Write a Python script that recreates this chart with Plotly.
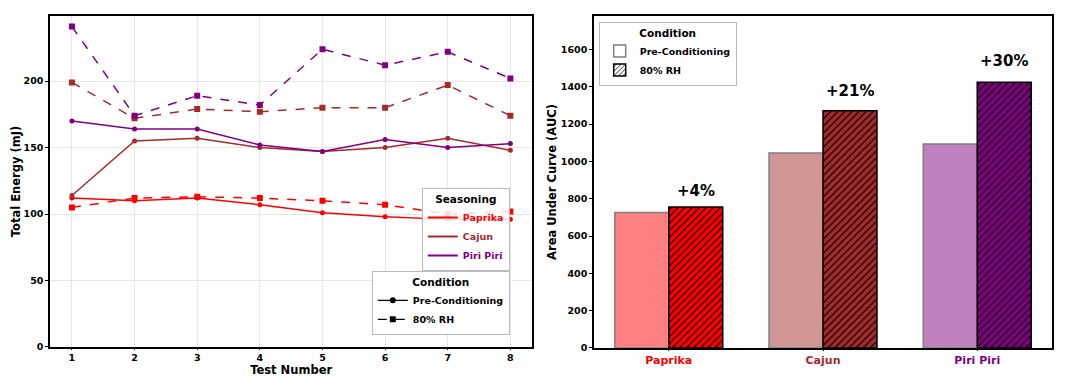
import plotly.graph_objects as go

tests = [1, 2, 3, 4, 5, 6, 7, 8]
seasonings = ["Paprika", "Cajun", "Piri Piri"]
colors = {"Paprika": "#FF0000", "Cajun": "#A52A2A", "Piri Piri": "#800080"}
light = {"Paprika": "#FF8080", "Cajun": "#D29595", "Piri Piri": "#BF80BF"}

pre = {
    "Paprika": [112, 110, 112, 107, 101, 98, 96, 96],
    "Cajun": [114, 155, 157, 150, 147, 150, 157, 148],
    "Piri Piri": [170, 164, 164, 152, 147, 156, 150, 153],
}
rh = {
    "Paprika": [105, 112, 113, 112, 110, 107, 100, 102],
    "Cajun": [199, 172, 179, 177, 180, 180, 197, 174],
    "Piri Piri": [241, 174, 189, 182, 224, 212, 222, 202],
}
auc_pre = [726, 1045, 1093]
auc_rh = [756, 1272, 1425]
pct_labels = ["+4%", "+21%", "+30%"]

FONT = "DejaVu Sans"
fig = go.Figure()

# left line chart
for s in seasonings:
    fig.add_trace(go.Scatter(x=tests, y=pre[s], mode="lines+markers",
                             line=dict(color=colors[s], width=1.5),
                             marker=dict(symbol="circle", size=5, color=colors[s]),
                             showlegend=False, xaxis="x", yaxis="y"))
    fig.add_trace(go.Scatter(x=tests, y=rh[s], mode="lines+markers",
                             line=dict(color=colors[s], width=1.5, dash="dash"),
                             marker=dict(symbol="square", size=6, color=colors[s]),
                             showlegend=False, xaxis="x", yaxis="y"))

# seasoning legend
for s in seasonings:
    fig.add_trace(go.Scatter(x=[None], y=[None], mode="lines",
                             line=dict(color=colors[s], width=2),
                             name=f"<span style='color:{colors[s]}'>{s}</span>",
                             legend="legend", xaxis="x", yaxis="y"))
# condition legend (left)
fig.add_trace(go.Scatter(x=[None], y=[None], mode="lines+markers",
                         line=dict(color="black", width=1.2),
                         marker=dict(symbol="circle", size=6, color="black"),
                         name="Pre-Conditioning", legend="legend2", xaxis="x", yaxis="y"))
fig.add_trace(go.Scatter(x=[None], y=[None], mode="lines+markers",
                         line=dict(color="black", width=1.2, dash="dash"),
                         marker=dict(symbol="square", size=6, color="black"),
                         name="80% RH", legend="legend2", xaxis="x", yaxis="y"))

# right bar chart (one trace per seasoning so that hatch colour stays black)
for s, vp, vr in zip(seasonings, auc_pre, auc_rh):
    fig.add_trace(go.Bar(x=[s], y=[vp], offsetgroup="pre",
                         marker=dict(color=light[s], line=dict(color="#7F7F7F", width=1.5)),
                         showlegend=False, xaxis="x2", yaxis="y2"))
    fig.add_trace(go.Bar(x=[s], y=[vr], offsetgroup="rh",
                         marker=dict(color=colors[s], line=dict(color="black", width=1.5),
                                     pattern=dict(shape="/", fillmode="replace",
                                                  bgcolor=colors[s], fgcolor="black",
                                                  fgopacity=1, size=5, solidity=0.22)),
                         showlegend=False, xaxis="x2", yaxis="y2"))
fig.add_trace(go.Bar(x=[None], y=[None], name="Pre-Conditioning", legend="legend3",
                     marker=dict(color="white", line=dict(color="#7F7F7F", width=1.5)),
                     xaxis="x2", yaxis="y2"))
fig.add_trace(go.Bar(x=[None], y=[None], name="80% RH", legend="legend3",
                     marker=dict(color="white", line=dict(color="black", width=1.5),
                                 pattern=dict(shape="/", fillmode="replace", bgcolor="white",
                                              fgcolor="black", fgopacity=1,
                                              size=4, solidity=0.25)),
                     xaxis="x2", yaxis="y2"))

annotations = []
for s, v, t in zip(seasonings, auc_rh, pct_labels):
    annotations.append(dict(x=s, y=v * 1.04 - 5, xref="x2", yref="y2", text=t,
                            showarrow=False, yanchor="bottom", xshift=0.175 * 154,
                            font=dict(family=FONT, size=15, color="black", weight="bold")))

tickfont = dict(family=FONT, size=9.5, color="black", weight="bold")
titlefont = dict(family=FONT, size=11.5, color="black", weight="bold")
axis_common = dict(showline=True, mirror=True, linecolor="black", linewidth=1.5,
                   ticks="outside", ticklen=3, tickcolor="black", tickfont=tickfont,
                   zeroline=False, automargin=False)
legfont = dict(family=FONT, size=9.5, color="black", weight="bold")
legtitle = dict(family=FONT, size=10.5, color="black", weight="bold")
legcommon = dict(bgcolor="rgba(255,255,255,0.85)", bordercolor="#BBBBBB", borderwidth=1,
                 font=legfont, xref="paper", yref="paper", tracegroupgap=0)

fig.update_layout(
    width=1071, height=377,
    margin=dict(l=0, r=0, t=0, b=0),
    paper_bgcolor="white", plot_bgcolor="white",
    barmode="group", bargap=0.3, bargroupgap=0,
    xaxis=dict(domain=[0.0467, 0.497], range=[0.65, 8.35], tickvals=tests,
               showgrid=True, gridcolor="#E6E6E6", gridwidth=1,
               title=dict(text="Test Number", font=titlefont, standoff=0),
               anchor="y", **{**axis_common, "ticklen": 1}),
    yaxis=dict(domain=[0.0796, 0.9576], range=[0, 249], tickvals=[0, 50, 100, 150, 200],
               showgrid=True, gridcolor="#E6E6E6", gridwidth=1,
               title=dict(text="Total Energy (mJ)", font=titlefont, standoff=0),
               anchor="x", **axis_common),
    xaxis2=dict(domain=[0.5546, 0.9823], range=[-0.485, 2.485], type="category",
                tickvals=seasonings,
                ticktext=[f"<span style='color:{colors[s]}'>{s}</span>" for s in seasonings],
                showgrid=False, anchor="y2",
                **{**axis_common, "ticklen": 1,
                   "tickfont": dict(family=FONT, size=11, weight="bold")}),
    yaxis2=dict(domain=[0.077, 0.9576], range=[0, 1780],
                tickvals=[0, 200, 400, 600, 800, 1000, 1200, 1400, 1600],
                showgrid=False, anchor="x2",
                title=dict(text="Area Under Curve (AUC)", font=titlefont, standoff=2),
                **axis_common),
    legend=dict(x=0.476, y=0.28, xanchor="right", yanchor="bottom",
                title=dict(text="Seasoning", font=legtitle, side="top center"), **legcommon),
    legend2=dict(x=0.476, y=0.111, xanchor="right", yanchor="bottom",
                 title=dict(text="Condition", font=legtitle, side="top center"), **legcommon),
    legend3=dict(x=0.559, y=0.942, xanchor="left", yanchor="top",
                 title=dict(text="Condition", font=legtitle, side="top center"), **legcommon),
    annotations=annotations,
)

fig.write_html("out.html", config={"displayModeBar": False},
               post_script="document.body.style.margin='0';")
